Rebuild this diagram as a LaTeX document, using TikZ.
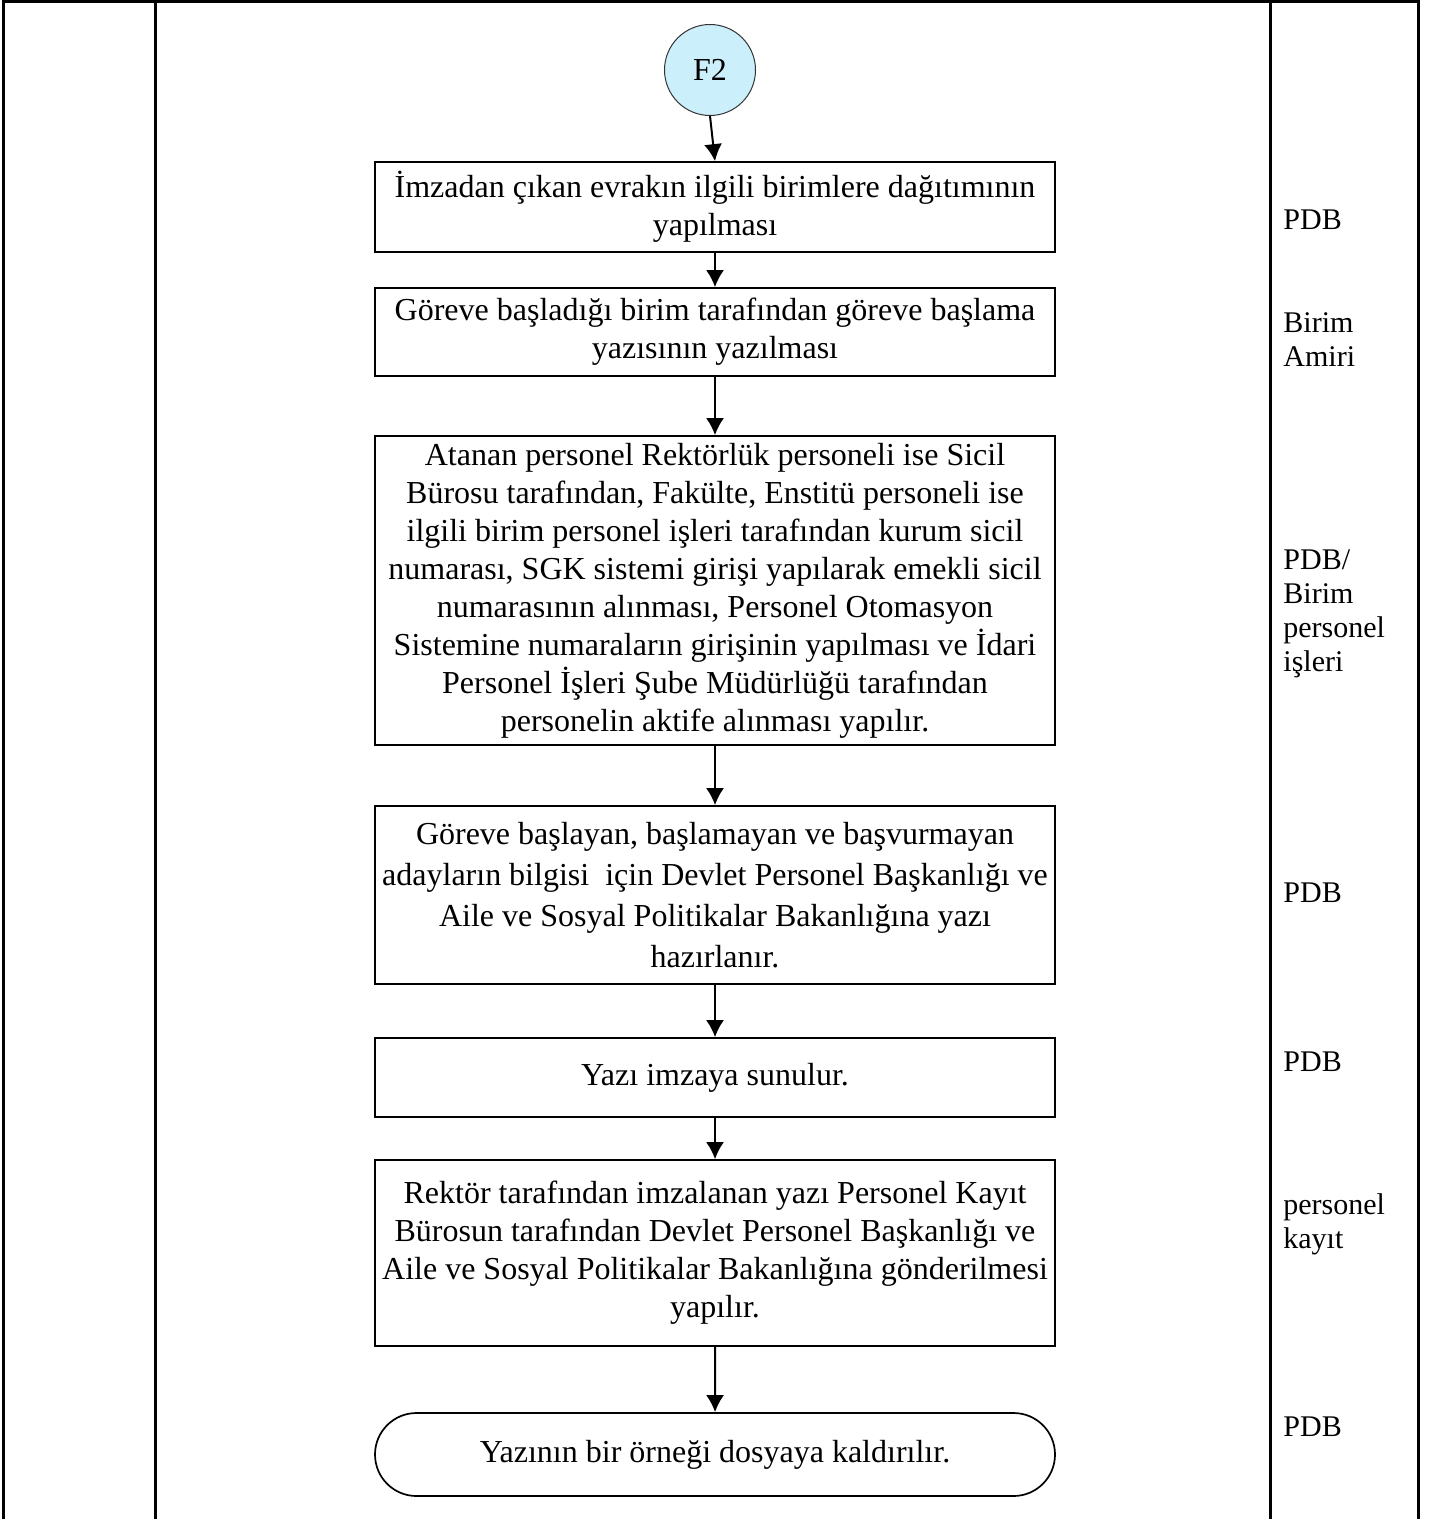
\documentclass[tikz,border=0pt]{standalone}
\usepackage{fontspec}
\setmainfont{Liberation Serif}
\usetikzlibrary{arrows.meta,shapes.misc}

\tikzset{
  adim/.style={draw, line width=0.85pt, minimum width=340pt, align=center, inner sep=0pt,
    font=\fontsize{16}{19}\selectfont},
  bitis/.style={adim, rounded rectangle},
  baglanti/.style={draw=black!80, circle, line width=0.5pt, fill=cyan!20, minimum size=45.5pt, inner sep=0pt,
    font=\fontsize{16}{19}\selectfont},
  sorumlu/.style={anchor=west, align=left, inner sep=0pt, font=\fontsize{15}{17}\selectfont},
  ok/.style={-{Latex[length=8.5pt,width=9pt]}, line width=1pt},
  cizgi/.style={line width=1.5pt}
}

\begin{document}
\begin{tikzpicture}[x=0.5pt,y=-0.5pt]
            \useasboundingbox (0,0) rectangle (1434,1519);

            % Draw the frame lines
            \draw[cizgi] (3,1519) -- (3,1.5) -- (1418,1.5) -- (1418,1519);
            \foreach \x in {155, 1270} {
                    \draw[cizgi] (\x,1.5) -- (\x,1519);
                }

            % Draw the connector circle on the top
            \node[baglanti] (F2) at (710, 70) {F2};

            % Draw the steps
            \node[adim, minimum height=45pt] (Dagitim) at (715, 207) {İmzadan çıkan evrakın ilgili birimlere dağıtımının\\ yapılması};
            \node[adim, minimum height=44pt] (Baslama) at (715, 332) {Göreve başladığı birim tarafından göreve başlama\\ yazısının yazılması};
            \node[adim, minimum height=154.5pt] (Sicil) at (715, 590.5) {Atanan personel Rektörlük personeli ise Sicil\\ Bürosu tarafından, Fakülte, Enstitü personeli ise\\ ilgili birim personel işleri tarafından kurum sicil\\ numarası, SGK sistemi girişi yapılarak emekli sicil\\ numarasının alınması, Personel Otomasyon\\ Sistemine numaraların girişinin yapılması ve İdari\\ Personel İşleri Şube Müdürlüğü tarafından\\ personelin aktife alınması yapılır.};
            \node[adim, minimum height=89pt, font=\fontsize{16}{20.5}\selectfont] (Bilgi) at (715, 895) {Göreve başlayan, başlamayan ve başvurmayan\\ adayların bilgisi \ için Devlet Personel Başkanlığı ve\\ Aile ve Sosyal Politikalar Bakanlığına yazı\\ hazırlanır.};
            \node[adim, minimum height=39.5pt] (Imza) at (715, 1077.5) {Yazı imzaya sunulur.};
            \node[adim, minimum height=93pt] (Gonderim) at (715, 1253) {Rektör tarafından imzalanan yazı Personel Kayıt\\ Bürosun tarafından Devlet Personel Başkanlığı ve\\ Aile ve Sosyal Politikalar Bakanlığına gönderilmesi\\ yapılır.};
            \node[bitis, minimum height=41.5pt] (Dosya) at (715, 1454.5) {Yazının bir örneği dosyaya kaldırılır.};

            % Connect the steps
            \draw[ok] (F2.south) -- (Dagitim.north);
            \foreach \a/\b in {Dagitim/Baslama, Baslama/Sicil, Sicil/Bilgi, Bilgi/Imza, Imza/Gonderim, Gonderim/Dosya} {
                    \draw[ok] (\a) -- (\b);
                }

            % Responsible units on the right
            \node[sorumlu] (PDB-a) at (1283, 220) {PDB};
            \node[sorumlu] (Amir) at (1283, 340) {Birim\\ Amiri};
            \node[sorumlu] (PDB-b) at (1283, 614) {PDB/\\ Birim\\ personel\\ işleri};
            \node[sorumlu] (PDB-c) at (1283, 893) {PDB};
            \node[sorumlu] (PDB-d) at (1283, 1062) {PDB};
            \node[sorumlu] (Kayit) at (1283, 1224) {personel\\ kayıt};
            \node[sorumlu] (PDB-e) at (1283, 1427) {PDB};

        \end{tikzpicture}
\end{document}
